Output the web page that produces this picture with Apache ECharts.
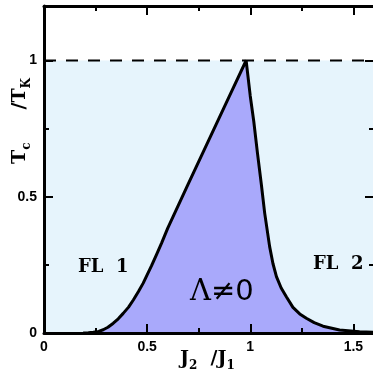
<!DOCTYPE html>
<html><head><meta charset="utf-8">
<script src="https://cdn.jsdelivr.net/npm/echarts@6/dist/echarts.min.js"></script>
<style>html,body{margin:0;padding:0;background:#fff}#c{width:373px;height:381px}</style>
</head><body><div id="c"></div>
<script>
// Phase boundary, left branch (FL 1 -> Lambda != 0)
const leftX = [0.19,0.215,0.239,0.265,0.287,0.31,0.336,0.36,0.384,0.41,0.433,0.458,0.481,0.5,0.521,0.545,0.57,0.6,0.7,0.8,0.9,0.98];
const leftY = [0,0.001,0.003,0.006,0.012,0.021,0.036,0.052,0.072,0.095,0.121,0.152,0.183,0.213,0.246,0.287,0.33,0.385,0.548,0.71,0.871,1];
// Phase boundary, right branch (Lambda != 0 -> FL 2)
const rightX = [1.0,1.017,1.035,1.054,1.07,1.094,1.11,1.127,1.15,1.175,1.207,1.24,1.272,1.31,1.353,1.433,1.53,1.6];
const rightY = [0.87,0.777,0.66,0.544,0.44,0.317,0.255,0.207,0.165,0.133,0.094,0.07,0.054,0.038,0.025,0.011,0.005,0.003];
// Tc = TK reference level
const refX = [0, 1.6];
const refY = [1, 1];
const xTicks = [0, 0.5, 1, 1.5];
const yTicks = [0, 0.5, 1];

const dome = leftX.map((x,i)=>[x,leftY[i]]).concat(rightX.map((x,i)=>[x,rightY[i]]));
const ref = refX.map((x,i)=>[x,refY[i]]);

const fmt = (ticks)=> (v)=>{ for (const t of ticks) if (Math.abs(t-v)<1e-9) return String(t); return ''; };
const lblStyle = {fontFamily:'Liberation Sans', fontWeight:'bold', fontSize:14, color:'#000'};

function mkAx(pos, major, labels, max, ticks){
  return {type:'value', min:0, max:max, interval: major?0.5:0.25, position:pos, z:6,
    axisLine:{show:true, onZero:false, lineStyle:{color: major?'#000':'rgba(0,0,0,0)', width:3}},
    axisTick:{show:true, inside:true, length: major?9:5, lineStyle:{color:'#000', width:2}},
    axisLabel: Object.assign({show:true, margin:7, formatter: labels ? fmt(ticks) : ()=>''}, lblStyle),
    splitLine:{show:false}};
}

const sub = {font:'bold 12px "DejaVu Serif"', fill:'#000', padding:[13,0,0,0]};
const big = {font:'bold 19px "DejaVu Serif"', fill:'#000', height:24};

const chart = echarts.init(document.getElementById('c'), null, {renderer:'canvas'});
chart.setOption({
  animation:false,
  backgroundColor:'#fff',
  grid:{left:44, top:6, width:330, height:327, containLabel:false, outerBoundsMode:'none'},
  xAxis:[mkAx('bottom',true,true,1.6,xTicks), mkAx('bottom',false,false,1.6,xTicks), mkAx('top',true,false,1.6,xTicks), mkAx('top',false,false,1.6,xTicks)],
  yAxis:[mkAx('left',true,true,1.2,yTicks), mkAx('left',false,false,1.2,yTicks), mkAx('right',true,false,1.2,yTicks), mkAx('right',false,false,1.2,yTicks)],
  series:[
    {type:'line', data:ref, showSymbol:false, xAxisIndex:0, yAxisIndex:0, z:1,
     lineStyle:{color:'#000', width:2, type:[12,10]}, areaStyle:{color:'#e6f4fc', opacity:1}},
    {type:'line', data:dome, showSymbol:false, xAxisIndex:0, yAxisIndex:0, z:2,
     lineStyle:{color:'#000', width:3}, areaStyle:{color:'#a9a9fb', opacity:1}}
  ],
  graphic:[
    {type:'text', left:78, top:258, z:10, style:{text:'FL  1', font:'bold 18px "DejaVu Serif"', fill:'#000'}},
    {type:'text', left:313, top:255, z:10, style:{text:'FL  2', font:'bold 18px "DejaVu Serif"', fill:'#000'}},
    {type:'text', left:190, top:278, z:10, style:{
      text:'{g|Λ}{o|≠0}',
      rich:{g:{font:'29px "DejaVu Serif"', fill:'#000'}, o:{font:'29px "DejaVu Sans"', fill:'#000'}}}},
    {type:'text', left:180, top:350, z:10, style:{
      text:'{t|J}{s|2}{t|  /J}{s|1}', rich:{t:big, s:sub}}},
    {type:'text', x:8, y:164, rotation:Math.PI/2, z:10, style:{
      text:'{t|T}{s|c}{t|     /T}{s|K}', rich:{t:big, s:sub}}}
  ]
});
</script>
</body></html>
